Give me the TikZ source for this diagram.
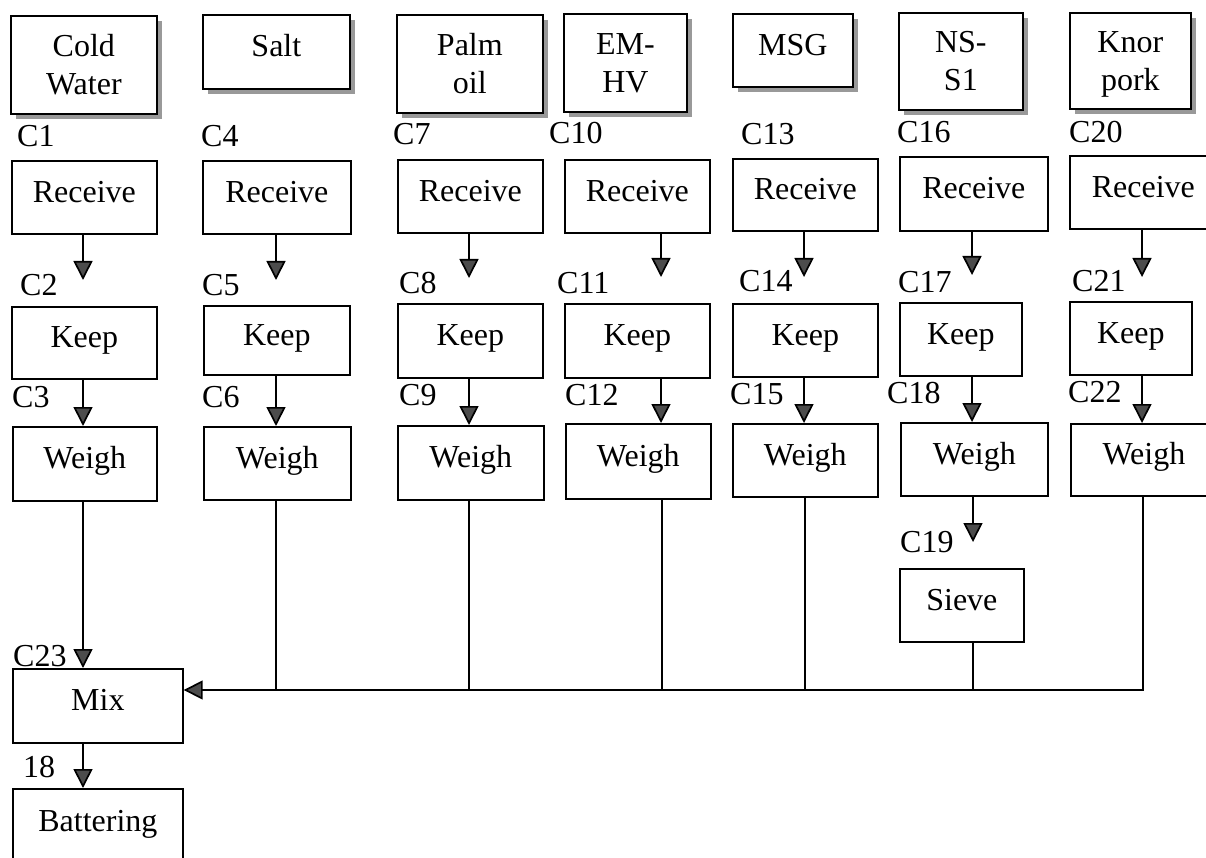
\documentclass[tikz,border=0pt]{standalone}
\usepackage{fontspec}
\setmainfont{Liberation Serif}
\usetikzlibrary{arrows.meta,shadows}
\begin{document}
\begin{tikzpicture}[x=1pt,y=-1pt,
  font=\fontsize{32}{38}\selectfont,
  basebox/.style={draw, line width=1.7pt, fill=white, inner sep=0pt, anchor=north west},
  proc/.style={basebox, text height=21pt, text depth=11pt},
  srcbox/.style={proc, drop shadow={shadow xshift=5pt, shadow yshift=-5pt, fill=black!40, opacity=1}},
  srctwo/.style={basebox, align=center, drop shadow={shadow xshift=5pt, shadow yshift=-5pt, fill=black!40, opacity=1}},
  lbl/.style={anchor=base west, inner sep=0pt},
  ln/.style={line width=1.7pt},
  arr/.style={line width=1.7pt, -{Triangle[width=19pt,length=19pt,fill=black!70]}}
]
\useasboundingbox (0,0) rectangle (1206,858);
\clip (0,0) rectangle (1206,858);

% source boxes
\node[srctwo, minimum width=146pt, minimum height=98pt] (s1) at (10,15) {Cold\\Water};
\node[srcbox, minimum width=147pt, minimum height=74pt] (s2) at (202,14) {Salt};
\node[srctwo, minimum width=146pt, minimum height=98pt] (s3) at (396,14) {Palm\\oil};
\node[srctwo, minimum width=123pt, minimum height=98pt] (s4) at (563,13) {EM-\\HV};
\node[srcbox, minimum width=120pt, minimum height=73pt] (s5) at (732,13) {MSG};
\node[srctwo, minimum width=124pt, minimum height=97pt] (s6) at (898,12) {NS-\\S1};
\node[srctwo, minimum width=121pt, minimum height=96pt] (s7) at (1069,12) {Knor\\\raisebox{0pt}[\height][0pt]{pork}};

% receive
\node[proc, minimum width=145pt, minimum height=73pt] (r1) at (11,160) {Receive};
\node[proc, minimum width=148pt, minimum height=73pt] (r2) at (202,160) {Receive};
\node[proc, minimum width=145pt, minimum height=73pt] (r3) at (397,159) {Receive};
\node[proc, minimum width=145pt, minimum height=73pt] (r4) at (564,159) {Receive};
\node[proc, minimum width=145pt, minimum height=72pt] (r5) at (732,158) {Receive};
\node[proc, minimum width=148pt, minimum height=74pt] (r6) at (899,156) {Receive};
\node[proc, minimum width=147pt, minimum height=73pt] (r7) at (1069,155) {Receive};

% keep
\node[proc, minimum width=145pt, minimum height=72pt] (k1) at (11,306) {Keep};
\node[proc, minimum width=146pt, minimum height=69pt] (k2) at (203,305) {Keep};
\node[proc, minimum width=145pt, minimum height=74pt] (k3) at (397,303) {Keep};
\node[proc, minimum width=145pt, minimum height=74pt] (k4) at (564,303) {Keep};
\node[proc, minimum width=145pt, minimum height=73pt] (k5) at (732,303) {Keep};
\node[proc, minimum width=122pt, minimum height=73pt] (k6) at (899,302) {Keep};
\node[proc, minimum width=122pt, minimum height=73pt] (k7) at (1069,301) {Keep};

% weigh
\node[proc, minimum width=144pt, minimum height=74pt] (w1) at (12,426) {Weigh};
\node[proc, minimum width=147pt, minimum height=73pt] (w2) at (203,426) {Weigh};
\node[proc, minimum width=146pt, minimum height=74pt] (w3) at (397,425) {Weigh};
\node[proc, minimum width=145pt, minimum height=75pt] (w4) at (565,423) {Weigh};
\node[proc, minimum width=145pt, minimum height=73pt] (w5) at (732,423) {Weigh};
\node[proc, minimum width=147pt, minimum height=73pt] (w6) at (900,422) {Weigh};
\node[proc, minimum width=146pt, minimum height=72pt] (w7) at (1070,423) {Weigh};

% sieve, mix, battering
\node[proc, minimum width=124pt, minimum height=73pt] (sv) at (899,568) {Sieve};
\node[proc, minimum width=170pt, minimum height=74pt] (mix) at (12,668) {Mix};
\node[proc, minimum width=170pt, minimum height=76pt] (bat) at (12,788) {Battering};

% labels
\node[lbl] (lc1) at (17,147) {C1};
\node[lbl] (lc4) at (201,147) {C4};
\node[lbl] (lc7) at (393,145) {C7};
\node[lbl] (lc10) at (549,144) {C10};
\node[lbl] (lc13) at (741,145) {C13};
\node[lbl] (lc16) at (897,143) {C16};
\node[lbl] (lc20) at (1069,143) {C20};
\node[lbl] (lc2) at (20,295) {C2};
\node[lbl] (lc5) at (202,295) {C5};
\node[lbl] (lc8) at (399,294) {C8};
\node[lbl] (lc11) at (557,294) {C11};
\node[lbl] (lc14) at (739,292) {C14};
\node[lbl] (lc17) at (898,293) {C17};
\node[lbl] (lc21) at (1072,292) {C21};
\node[lbl] (lc3) at (12,407) {C3};
\node[lbl] (lc6) at (202,407) {C6};
\node[lbl] (lc9) at (399,405) {C9};
\node[lbl] (lc12) at (565,405) {C12};
\node[lbl] (lc15) at (730,404) {C15};
\node[lbl] (lc18) at (887,403) {C18};
\node[lbl] (lc22) at (1068,402) {C22};
\node[lbl] (lc19) at (900,552) {C19};
\node[lbl] (lc23) at (13,666) {C23};
\node[lbl] (l18) at (23,777) {18};

% arrow tip coordinates (first row) and bus coordinates
\coordinate (t1) at (83,280);
\coordinate (t2) at (276,280);
\coordinate (t3) at (469,278);
\coordinate (t4) at (661,277);
\coordinate (t5) at (804,277);
\coordinate (t6) at (972,275);
\coordinate (t7) at (1142,277);
\coordinate (t19) at (973,542);
\coordinate (b2) at (276,690);
\coordinate (b3) at (469,690);
\coordinate (b4) at (662,690);
\coordinate (b5) at (805,690);
\coordinate (b6) at (973,690);
\coordinate (b7) at (1143,690);

% receive -> (keep), keep -> weigh
\foreach \i in {1,...,7} {
  \draw[arr] (r\i.south -| t\i) -- (t\i);
  \draw[arr] (k\i.south -| t\i) -- (w\i.north -| t\i);
}
% weigh -> sieve
\draw[arr] (w6.south -| t19) -- (t19);
% to mix
\draw[arr] (w1.south -| t1) -- (mix.north -| t1);
\draw[ln] (w2.south -| b2) -- (b2);
\draw[ln] (w3.south -| b3) -- (b3);
\draw[ln] (w4.south -| b4) -- (b4);
\draw[ln] (w5.south -| b5) -- (b5);
\draw[ln] (sv.south -| b6) -- (b6);
\draw[arr] (w7.south -| b7) -- (b7) -- (mix.east |- b7);
% mix -> battering
\draw[arr] (mix.south -| t1) -- (bat.north -| t1);
\end{tikzpicture}
\end{document}
